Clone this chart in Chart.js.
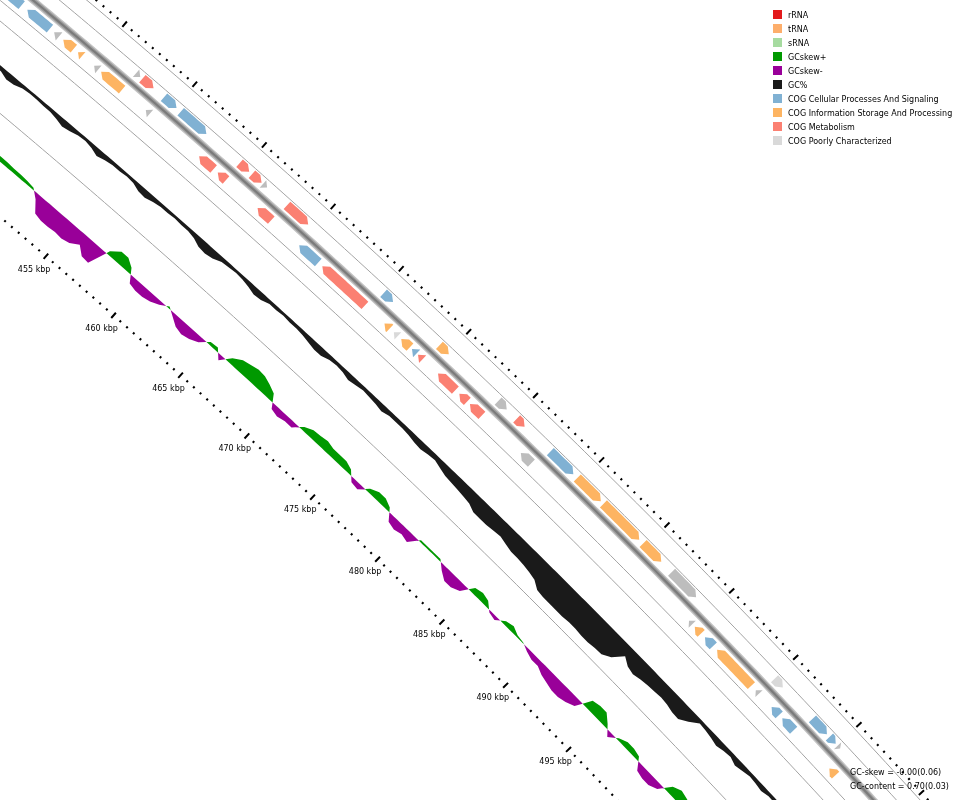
<!DOCTYPE html>
<html>
<head>
<meta charset="utf-8">
<script src="https://cdn.jsdelivr.net/npm/chart.js@4.4.0/dist/chart.umd.min.js"></script>
<style>
  html, body { margin: 0; padding: 0; background: #fff; }
  #wrap { position: relative; width: 960px; height: 800px; overflow: hidden; }
  #map { position: absolute; left: 0; top: 0; }
  #legend { position: absolute; left: 773px; top: 11px; }
  .row { height: 14px; line-height: 14px; font: 8px "DejaVu Sans"; color: #000; white-space: nowrap; }
  .sw { display: inline-block; width: 9px; height: 9px; margin-right: 6px; vertical-align: middle; position: relative; top: -1px; }
  #stats { position: absolute; left: 850px; top: 766px; font: 8px "DejaVu Sans"; line-height: 14px; color: #000; white-space: nowrap; }
</style>
</head>
<body>
<div id="wrap">
  <canvas id="map" width="960" height="800"></canvas>
  <div id="legend"></div>
  <div id="stats">GC-skew = -0.00(0.06)<br>GC-content = 0.70(0.03)</div>
</div>
<script>
// legend
const legendLabels = ["rRNA", "tRNA", "sRNA", "GCskew+", "GCskew-", "GC%",
  "COG Cellular Processes And Signaling", "COG Information Storage And Processing",
  "COG Metabolism", "COG Poorly Characterized"];
const legendColors = ["#e31a1c", "#fdae6b", "#a6dba0", "#009900", "#990099", "#1a1a1a",
  "#80b1d3", "#fdb462", "#fb8072", "#d9d9d9"];

// ruler labels (kbp)
const labelKbp = [455, 460, 465, 470, 475, 480, 485, 490, 495];

// GC skew, every 0.5 kbp from 448 kbp (-1..1 of half track)
const skewStart = 448;
const gcSkew = [
  0.1, 0.1, 0.1, 0.12, 0.12, 0.1, 0.1, 0.08, 0.05, -0.15,
  -0.45, -0.5, -0.5, -0.48, -0.5, -0.45, -0.3, -0.5, -0.52, 0.1,
  0.3, 0.3, 0.15, -0.2, -0.25, -0.25, -0.2, -0.1, 0.05, -0.1,
  -0.25, -0.3, -0.25, -0.15, 0.08, 0.1, -0.15, 0.15, 0.3, 0.35,
  0.4, 0.38, 0.3, 0.2, -0.15, -0.2, -0.15, -0.15, 0.1, 0.2,
  0.22, 0.25, 0.2, 0.2, 0.2, 0.12, -0.12, -0.15, 0.1, 0.2,
  0.2, 0.1, -0.2, -0.25, -0.2, -0.25, 0.05, 0.05, 0.05, 0.05,
  -0.15, -0.3, -0.3, -0.2, 0.15, 0.2, 0.15, -0.05, -0.1, 0.1,
  0.15, 0.05, 0.02, -0.08, -0.15, -0.15, -0.25, -0.3, -0.35, -0.35,
  -0.3, -0.2, 0.25, 0.3, 0.3, 0.1, -0.15, 0.05, 0.15, 0.15,
  0.1, -0.2, -0.25, -0.25, -0.15, 0.2, 0.3, 0.25, 0.2, -0.1,
  -0.1
];

// GC content deviation, every 0.5 kbp from 446 kbp
const contentStart = 446;
const gcContent = [
  -0.12, -0.12, -0.2, -0.18, -0.1, -0.08, -0.08, -0.1, -0.1, -0.14,
  -0.2, -0.16, -0.1, -0.08, -0.12, -0.2, -0.14, -0.1, -0.1, -0.08,
  -0.1, -0.18, -0.2, -0.14, -0.1, -0.1, -0.08, -0.1, -0.1, -0.14,
  -0.24, -0.26, -0.22, -0.12, -0.1, -0.08, -0.1, -0.14, -0.2, -0.18,
  -0.1, -0.1, -0.08, -0.1, -0.1, -0.12, -0.16, -0.2, -0.2, -0.12,
  -0.1, -0.12, -0.18, -0.14, -0.1, -0.12, -0.14, -0.18, -0.12, -0.12,
  -0.12, -0.14, -0.18, -0.2, -0.16, -0.14, -0.2, -0.26, -0.28, -0.3,
  -0.32, -0.35, -0.45, -0.45, -0.45, -0.42, -0.4, -0.45, -0.5, -0.5,
  -0.52, -0.55, -0.6, -0.75, -0.78, -0.78, -0.78, -0.78, -0.76, -0.76,
  -0.78, -0.78, -0.75, -0.74, -0.6, -0.3, -0.45, -0.5, -0.45, -0.42,
  -0.4, -0.38, -0.4, -0.45, -0.46, -0.3, -0.1, -0.12, -0.15, -0.2,
  -0.15, -0.12, -0.2, -0.15, -0.1, -0.12, -0.15, -0.1, -0.1, -0.1,
  -0.1
];

// genes (kbp)
const fwdStart = [452.2, 452.65, 454.2, 455.4, 459.65, 460.55, 461.35, 463.1, 470.2, 474.35,
  478.75, 480.15, 482.7, 484.75, 486.75, 489.8, 492.0, 500.05, 503.05, 504.4, 505.05];
const fwdEnd = [452.5, 453.45, 455.1, 457.25, 460.35, 461.25, 461.65, 464.65, 470.9, 475.05,
  479.4, 480.75, 484.45, 486.55, 489.5, 491.2, 493.9, 500.7, 504.2, 504.9, 505.25];
const fwdCog = ["other", "metab", "cell", "cell", "metab", "metab", "other", "metab", "cell", "info",
  "other", "metab", "cell", "info", "info", "info", "other", "poor", "cell", "cell", "other"];

const revStart = [443.45, 445.45, 447.35, 448.0, 449.05, 450.2, 450.7, 453.9, 457.75, 459.1,
  462.0, 465.05, 466.75, 471.35, 472.05, 472.6, 473.4, 473.85, 475.35, 476.95,
  477.75, 481.6, 494.55, 495.0, 495.8, 496.75, 499.8, 501.05, 501.9, 505.65];
const revEnd = [445.05, 447.05, 447.7, 448.75, 449.35, 450.5, 452.2, 454.2, 458.8, 459.7,
  463.0, 466.45, 469.9, 471.75, 472.35, 473.25, 473.75, 474.2, 476.65, 477.55,
  478.65, 482.4, 494.8, 495.5, 496.45, 499.45, 500.05, 501.65, 502.8, 506.15];
const revCog = ["cell", "cell", "other", "info", "info", "other", "info", "other", "metab", "metab",
  "metab", "cell", "metab", "info", "poor", "info", "cell", "metab", "metab", "metab",
  "metab", "other", "other", "info", "cell", "info", "other", "cell", "cell", "info"];

const cogColors = { cell: "#80b1d3", info: "#fdb462", metab: "#fb8072", poor: "#d9d9d9", other: "#bdbdbd" };

// circle geometry (px); d = offset outward from the inner ruler
const CX = -5390.8, CY = 6541.0, R_RULER = 8310;
const PHI_475 = -0.81437, RAD_PER_KBP = 0.0021625;
const D_SKEW = 42, H_SKEW = 37;
const D_GC = 116, H_GC = 35;
const D_BACKBONE = 187, D_REV = 176, D_FWD = 197.5, HALF_W = 5;
const D_OUTER = 227.5, D_LABEL = -18;
const thinRings = [79, 150, 166, 204, 221.5];

function toXY(kbp, d) {
  const phi = PHI_475 + (kbp - 475) * RAD_PER_KBP;
  const r = R_RULER + d;
  return { x: CX + r * Math.cos(phi), y: CY + r * Math.sin(phi) };
}

function arc(d, from, to, step) {
  const pts = [];
  const n = Math.max(1, Math.ceil(Math.abs(to - from) / step));
  for (let i = 0; i <= n; i++) pts.push(toXY(from + (to - from) * i / n, d));
  return pts;
}

function ringDataset(d, color, width, order) {
  return { data: arc(d, 438, 516, 0.5), borderColor: color, borderWidth: width,
    pointRadius: 0, fill: false, order: order };
}

function ticks(d, minorHalf, majorIn, majorOut) {
  const pts = [];
  for (let k = 440; k <= 515; k += 0.5) {
    const major = Math.abs(k % 5) < 1e-6;
    pts.push(toXY(k, major ? d - majorIn : d - minorHalf));
    pts.push(toXY(k, major ? d + majorOut : d + minorHalf));
    pts.push({ x: null, y: null });
  }
  return pts;
}

function gene(s, e, strand, lane) {
  const head = 6 / 18.2;
  let pts = [];
  if (strand > 0) {
    const b = Math.max(s, e - head);
    pts = pts.concat(arc(lane + HALF_W, s, b, 0.2));
    pts.push(toXY(e, lane));
    pts = pts.concat(arc(lane - HALF_W, b, s, 0.2));
  } else {
    const b = Math.min(e, s + head);
    pts.push(toXY(s, lane));
    pts = pts.concat(arc(lane + HALF_W, b, e, 0.2));
    pts = pts.concat(arc(lane - HALF_W, e, b, 0.2));
  }
  return pts;
}

function band(start, vals, base, half, pick) {
  const step = 0.5;
  const pts = [];
  for (let i = 0; i < vals.length; i++) {
    if (i > 0 && vals[i - 1] * vals[i] < 0) {
      const t = vals[i - 1] / (vals[i - 1] - vals[i]);
      pts.push(toXY(start + (i - 1 + t) * step, base));
    }
    pts.push(toXY(start + i * step, base + pick(vals[i]) * half));
  }
  const last = start + (vals.length - 1) * step;
  return pts.concat(arc(base, last, start, 0.25));
}

function shapeDataset(pts, color, order) {
  return { data: pts, borderWidth: 0, borderColor: color, backgroundColor: color,
    pointRadius: 0, fill: "shape", order: order };
}

const datasets = [];
thinRings.forEach(d => datasets.push(ringDataset(d, "#a3a3a3", 1, 9)));
datasets.push(ringDataset(D_BACKBONE, "#c4c4c4", 7, 8));
datasets.push(ringDataset(D_BACKBONE, "#9d9d9d", 4.5, 7));
datasets.push(ringDataset(D_BACKBONE, "#7a7a7a", 2, 6));

datasets.push(shapeDataset(band(contentStart, gcContent, D_GC, H_GC, v => v), "#1a1a1a", 3));
datasets.push(shapeDataset(band(skewStart, gcSkew, D_SKEW, H_SKEW, v => Math.max(v, 0)), "#009900", 3));
datasets.push(shapeDataset(band(skewStart, gcSkew, D_SKEW, H_SKEW, v => Math.min(v, 0)), "#990099", 3));

fwdStart.forEach((s, i) => datasets.push(shapeDataset(gene(s, fwdEnd[i], 1, D_FWD), cogColors[fwdCog[i]], 2)));
revStart.forEach((s, i) => datasets.push(shapeDataset(gene(s, revEnd[i], -1, D_REV), cogColors[revCog[i]], 2)));

datasets.push({ data: ticks(0, 1.1, 3.5, 3.5), borderColor: "#000", borderWidth: 2,
  pointRadius: 0, fill: false, spanGaps: false, order: 1 });
datasets.push({ data: ticks(D_OUTER, 1.1, 3.5, 3.5), borderColor: "#000", borderWidth: 2,
  pointRadius: 0, fill: false, spanGaps: false, order: 1 });

const labelPlugin = {
  id: "kbpLabels",
  afterDatasetsDraw(chart) {
    const { ctx, scales } = chart;
    ctx.save();
    ctx.font = '8px "DejaVu Sans"';
    ctx.fillStyle = "#000";
    ctx.textAlign = "center";
    ctx.textBaseline = "middle";
    labelKbp.forEach(k => {
      const p = toXY(k, D_LABEL);
      ctx.fillText(k + " kbp", scales.x.getPixelForValue(p.x), scales.y.getPixelForValue(p.y));
    });
    ctx.restore();
  }
};

new Chart(document.getElementById("map"), {
  type: "line",
  data: { datasets: datasets },
  options: {
    responsive: false,
    animation: false,
    devicePixelRatio: 1,
    events: [],
    layout: { padding: 0, autoPadding: false },
    elements: { line: { tension: 0 } },
    scales: {
      x: { type: "linear", min: 0, max: 960, display: false },
      y: { type: "linear", min: 0, max: 800, reverse: true, display: false }
    },
    plugins: { legend: { display: false }, tooltip: { enabled: false } }
  },
  plugins: [labelPlugin]
});

const legendBox = document.getElementById("legend");
legendLabels.forEach((name, i) => {
  const row = document.createElement("div");
  row.className = "row";
  row.innerHTML = `<span class="sw" style="background:${legendColors[i]}"></span>${name}`;
  legendBox.appendChild(row);
});
</script>
</body>
</html>
